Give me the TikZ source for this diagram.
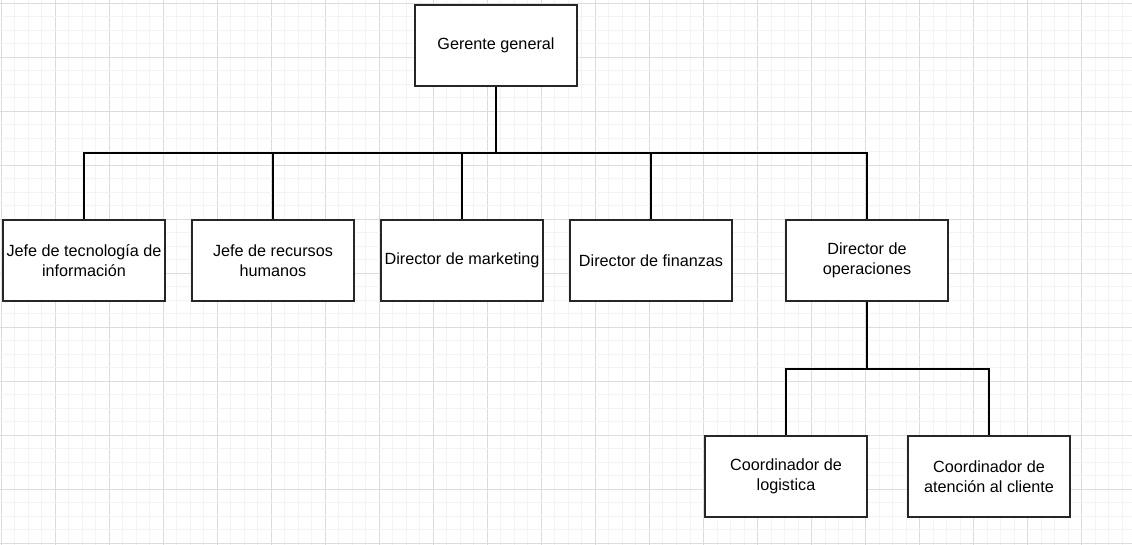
\documentclass[tikz,border=0pt]{standalone}
\usepackage{fontspec}
\setmainfont{Liberation Sans}
\definecolor{gridmajor}{HTML}{DCDCDC}
\definecolor{gridminor}{HTML}{F3F3F3}
\begin{document}
\begin{tikzpicture}[x=1pt,y=-1pt,
  box/.style={draw=black!85,line width=1.5pt,fill=white,minimum width=162pt,minimum height=81pt,
    inner sep=0pt,align=center,font=\fontsize{16.2}{19.5}\selectfont},
  link/.style={draw=black,line width=1.35pt}]
\useasboundingbox (0,0) rectangle (1132,545);
\fill[white] (0,0) rectangle (1132,545);
% grid
\foreach \k in {0,...,83}{
  \pgfmathsetmacro{\xx}{1.0+13.51*\k}
  \pgfmathtruncatemacro{\m}{mod(\k,4)}
  \ifnum\m=0 \draw[gridmajor,line width=1pt] (\xx,0) -- (\xx,545);
  \else \draw[gridminor,line width=1pt] (\xx,0) -- (\xx,545); \fi
}
\foreach \k in {0,...,40}{
  \pgfmathsetmacro{\yy}{3.3+13.5*\k}
  \pgfmathtruncatemacro{\m}{mod(\k,4)}
  \ifnum\m=0 \draw[gridmajor,line width=1pt] (0,\yy) -- (1132,\yy);
  \else \draw[gridminor,line width=1pt] (0,\yy) -- (1132,\yy); \fi
}
% nodes
\node[box] (g) at (496,45.5) {Gerente general};
\node[box] (t1) at (84,260.5) {Jefe de tecnología de\\información};
\node[box] (t2) at (273,260.5) {Jefe de recursos\\humanos};
\node[box] (t3) at (462,260.5) {Director de marketing};
\node[box] (t4) at (651,260.5) {Director de finanzas};
\node[box] (t5) at (867,260.5) {Director de\\operaciones};
\node[box] (c1) at (786,476.5) {Coordinador de\\logistica};
\node[box] (c2) at (989,476.5) {Coordinador de\\atención al cliente};
% connectors
\coordinate (b) at (496,153);
\coordinate (b2) at (867,369);
\draw[link] (g.south) -- (b);
\draw[link] (b) -| (t1.north);
\draw[link] (b) -| (t2.north);
\draw[link] (b) -| (t3.north);
\draw[link] (b) -| (t4.north);
\draw[link] (b) -| (t5.north);
\draw[link] (t5.south) -- (b2);
\draw[link] (b2) -| (c1.north);
\draw[link] (b2) -| (c2.north);
\end{tikzpicture}
\end{document}
